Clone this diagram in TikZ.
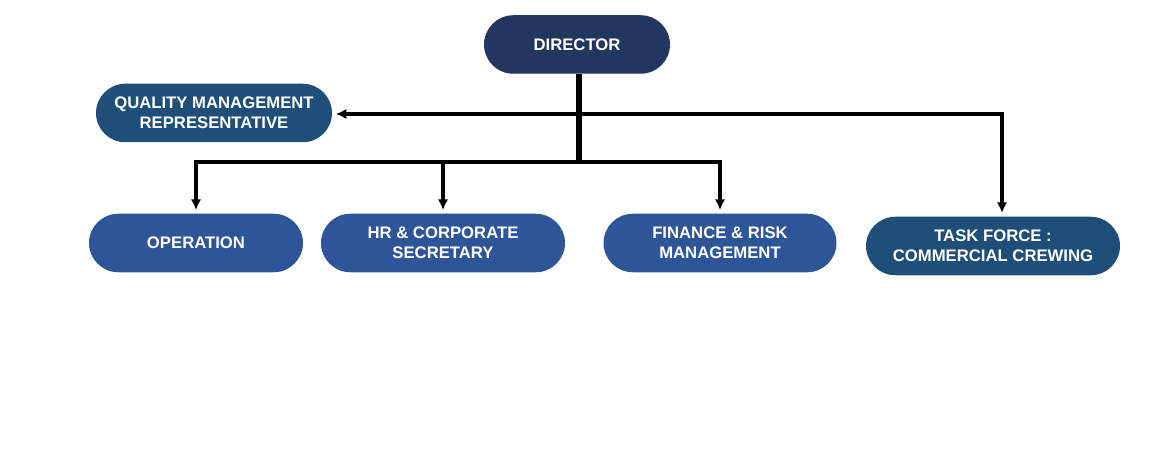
\documentclass[tikz,border=0pt]{standalone}
\usepackage{fontspec}
\setmainfont{Liberation Sans}
\usepackage{xcolor}
\usetikzlibrary{shapes.misc,arrows.meta}
\definecolor{NavyTop}{HTML}{22375F}
\definecolor{SteelBlue}{HTML}{1F4E79}
\definecolor{RoyalBlue}{HTML}{2E5597}
\begin{document}
\begin{tikzpicture}[
  every node/.style={font=\bfseries\fontsize{9.5}{11.3}\selectfont, text=white, align=center},
  unit/.style={rounded rectangle, inner sep=0pt, minimum height=1.17cm},
  trunk/.style={line width=3.2pt, color=black},
  wire/.style={line width=1.8pt, color=black},
  link/.style={wire, -{Latex[length=6pt,width=6pt]}, shorten >=2pt}
]
% Canvas
\useasboundingbox[fill=white] (0,0) rectangle (23.2,9);

% Units
\node[unit, fill=NavyTop, minimum width=3.72cm] (director) at (11.54,8.11) {DIRECTOR};
\node[unit, fill=SteelBlue, minimum width=4.72cm] (qmr) at (4.28,6.74) {QUALITY MANAGEMENT\\REPRESENTATIVE};
\node[unit, fill=RoyalBlue, minimum width=4.28cm] (oper) at (3.92,4.14) {OPERATION};
\node[unit, fill=RoyalBlue, minimum width=4.88cm] (hr) at (8.86,4.14) {HR \& CORPORATE\\SECRETARY};
\node[unit, fill=RoyalBlue, minimum width=4.66cm] (fin) at (14.40,4.14) {FINANCE \& RISK\\MANAGEMENT};
\node[unit, fill=SteelBlue, minimum width=5.08cm] (task) at (19.86,4.08) {TASK FORCE :\\COMMERCIAL CREWING};

% Junctions
\coordinate (qmrjoin) at (11.58,6.72);
\coordinate (hub) at (11.58,5.76);
\coordinate (taskjoin) at (20.04,6.72);

% Lines
\draw[trunk] (director.south -| hub) -- (hub);
\draw[link] (qmrjoin) -- (qmrjoin -| qmr.east);
\draw[link] (qmrjoin) -- (taskjoin) -- (taskjoin |- task.north);
\foreach \u in {oper,fin} {
  \draw[link] (hub) -- (\u.north |- hub) -- (\u.north);
}
\draw[link] (hr.north |- hub) -- (hr.north);
\end{tikzpicture}
\end{document}
